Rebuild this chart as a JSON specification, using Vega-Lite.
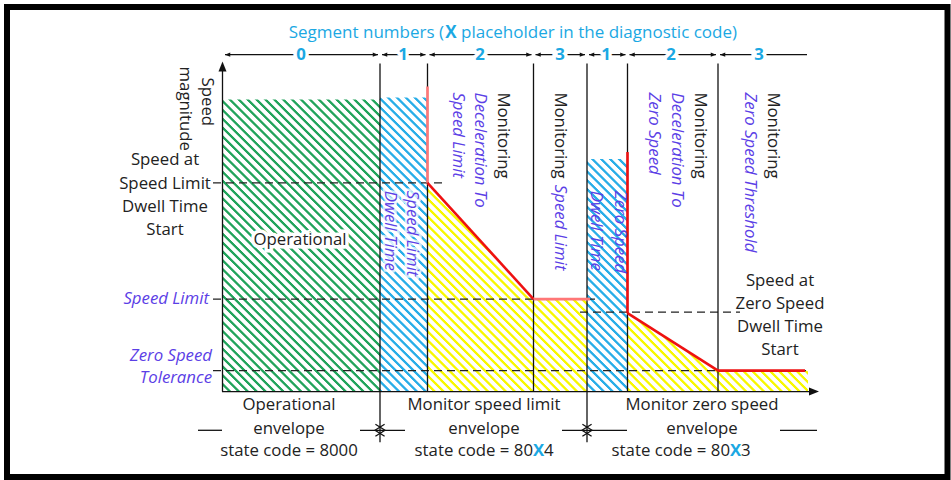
{
"$schema":"https://vega.github.io/schema/vega-lite/v6.json",
"width":951,"height":480,"padding":0,
"autosize":{"type":"fit","contains":"padding"},
"background":"white",
"config":{"view":{"stroke":null},"text":{"font":"Open Sans","fontSize":16.8,"color":"#222"}},
"resolve":{"scale":{"color":"independent","shape":"independent"}},
"encoding":{
 "x":{"field":"x","type":"quantitative","scale":{"domain":[0,951],"nice":false,"zero":false},"axis":null},
 "y":{"field":"y","type":"quantitative","scale":{"domain":[0,480],"reverse":true,"nice":false,"zero":false},"axis":null}
},
"datasets":{
 "regions":[
  {"part":"operational","x":222,"x2":380,"y":100,"y2":394,"c":"green"},
  {"part":"speed limit dwell","x":380,"x2":427.5,"y":98,"y2":394,"c":"blue"},
  {"part":"zero speed dwell","x":587,"x2":627.5,"y":160,"y2":394,"c":"blue"}
 ],
 "yellow":[
  {"s":"A","x":427.5,"y":184,"y0":394},{"s":"A","x":533.5,"y":301,"y0":394},{"s":"A","x":587,"y":301,"y0":394},
  {"s":"B","x":627.5,"y":315,"y0":394},{"s":"B","x":718,"y":373,"y0":394},{"s":"B","x":808,"y":373,"y0":394}
 ],
 "overlay":[{"x":220,"x2":810,"y":94,"y2":394}],
 "dashed":[
  {"x":213,"x2":442,"y":184,"y2":184},
  {"x":213,"x2":595,"y":301,"y2":301},
  {"x":580,"x2":740,"y":314,"y2":314},
  {"x":213,"x2":808,"y":373,"y2":373}
 ],
 "lines":[
  {"x":222.5,"x2":222.5,"y":394,"y2":66},
  {"x":222,"x2":812,"y":394,"y2":394},
  {"x":380,"x2":380,"y":64,"y2":445},
  {"x":427.5,"x2":427.5,"y":64,"y2":394},
  {"x":533.5,"x2":533.5,"y":64,"y2":394},
  {"x":587,"x2":587,"y":64,"y2":445},
  {"x":627.5,"x2":627.5,"y":64,"y2":394},
  {"x":718,"x2":718,"y":64,"y2":394},
  {"x":225,"x2":378,"y":55,"y2":55},
  {"x":382,"x2":425.5,"y":55,"y2":55},
  {"x":429.5,"x2":531.5,"y":55,"y2":55},
  {"x":535.5,"x2":585,"y":55,"y2":55},
  {"x":589,"x2":625.5,"y":55,"y2":55},
  {"x":629.5,"x2":716,"y":55,"y2":55},
  {"x":720,"x2":807,"y":55,"y2":55},
  {"x":198,"x2":222,"y":433,"y2":433},
  {"x":360,"x2":405,"y":433,"y2":433},
  {"x":562,"x2":627,"y":433,"y2":433},
  {"x":780,"x2":817,"y":433,"y2":433}
 ],
 "red":[
  {"x":427.5,"x2":427.5,"y":87,"y2":184,"c":"pale"},
  {"x":427.5,"x2":533.5,"y":184,"y2":301,"c":"red"},
  {"x":533.5,"x2":590,"y":301,"y2":301,"c":"pale"},
  {"x":627.5,"x2":627.5,"y":153,"y2":315,"c":"red"},
  {"x":627.5,"x2":718,"y":315,"y2":373,"c":"red"},
  {"x":718,"x2":805,"y":373,"y2":373,"c":"red"}
 ],
 "arrows":[
  {"x":225,"y":55,"d":"left"},{"x":378,"y":55,"d":"right"},
  {"x":382,"y":55,"d":"left"},{"x":425.5,"y":55,"d":"right"},
  {"x":429.5,"y":55,"d":"left"},{"x":531.5,"y":55,"d":"right"},
  {"x":535.5,"y":55,"d":"left"},{"x":585,"y":55,"d":"right"},
  {"x":589,"y":55,"d":"left"},{"x":625.5,"y":55,"d":"right"},
  {"x":629.5,"y":55,"d":"left"},{"x":716,"y":55,"d":"right"},
  {"x":720,"y":55,"d":"left"}
 ],
 "axisArrows":[{"x":222.5,"y":62,"d":"up"},{"x":819,"y":394,"d":"right"}],
 "chevrons":[
  {"x":385,"y":433,"d":"right"},{"x":375,"y":433,"d":"left"},
  {"x":592,"y":433,"d":"right"},{"x":582,"y":433,"d":"left"}
 ],
 "txtBlack":[
  {"x":165,"y":161,"t":"Speed at"},
  {"x":165,"y":185,"t":"Speed Limit"},
  {"x":165,"y":208,"t":"Dwell Time"},
  {"x":165,"y":231,"t":"Start"},
  {"x":780,"y":283,"t":"Speed at"},
  {"x":780,"y":306,"t":"Zero Speed"},
  {"x":780,"y":329,"t":"Dwell Time"},
  {"x":780,"y":352,"t":"Start"},
  {"x":289,"y":408,"t":"Operational"},
  {"x":289,"y":432,"t":"envelope"},
  {"x":289,"y":454,"t":"state code = 8000"},
  {"x":484,"y":408,"t":"Monitor speed limit"},
  {"x":484,"y":432,"t":"envelope"},
  {"x":702,"y":408,"t":"Monitor zero speed"},
  {"x":702,"y":432,"t":"envelope"}
 ],
 "txtBlueRight":[
  {"x":209,"y":301,"t":"Speed Limit"},
  {"x":212,"y":358,"t":"Zero Speed"},
  {"x":212,"y":380,"t":"Tolerance"}
 ],
 "rotBlack":[
  {"x":207,"y":78,"t":"Speed"},
  {"x":185,"y":67,"t":"magnitude"},
  {"x":503,"y":93,"t":"Monitoring"},
  {"x":560,"y":93,"t":"Monitoring"},
  {"x":700,"y":93,"t":"Monitoring"},
  {"x":773,"y":93,"t":"Monitoring"}
 ],
 "rotBlue":[
  {"x":412,"y":192,"t":"Speed Limit","h":1},
  {"x":390,"y":192,"t":"Dwell Time","h":1},
  {"x":480,"y":93,"t":"Deceleration To","h":0},
  {"x":458,"y":93,"t":"Speed Limit","h":0},
  {"x":560,"y":186,"t":"Speed Limit","h":0},
  {"x":620,"y":192,"t":"Zero Speed","h":0},
  {"x":596,"y":192,"t":"Dwell Time","h":0},
  {"x":677,"y":93,"t":"Deceleration To","h":0},
  {"x":654,"y":93,"t":"Zero Speed","h":0},
  {"x":750,"y":93,"t":"Zero Speed Threshold","h":0}
 ],
 "opLabel":[{"x":300,"y":242,"t":"Operational"}],
 "segLabels":[
  {"x":301,"y":55,"t":"0"},{"x":403,"y":55,"t":"1"},{"x":480,"y":55,"t":"2"},{"x":560,"y":55,"t":"3"},
  {"x":606,"y":55,"t":"1"},{"x":671,"y":55,"t":"2"},{"x":759,"y":55,"t":"3"}
 ],
 "titleA":[{"x":444,"y":33,"t":"Segment numbers ("}],
 "titleX":[{"x":451,"y":33,"t":"X"}],
 "titleB":[{"x":461,"y":33,"t":"placeholder in the diagnostic code)"}],
 "codeA":[{"x":533,"y":454,"t":"state code = 80"},{"x":730,"y":454,"t":"state code = 80"}],
 "codeX":[{"x":538.5,"y":454,"t":"X"},{"x":735.5,"y":454,"t":"X"}],
 "codeB":[{"x":544,"y":454,"t":"4"},{"x":741,"y":454,"t":"3"}],
 "frame":[{"x":7,"x2":947.5,"y":7,"y2":480}]
},
"layer":[
 {"data":{"name":"regions"},"mark":{"type":"rect"},
  "encoding":{"x2":{"field":"x2"},"y2":{"field":"y2"},
   "color":{"field":"c","type":"nominal","scale":{"domain":["green","blue"],"range":["#22a45c","#29aee8"]},"legend":null}}},
 {"data":{"name":"yellow"},"mark":{"type":"area","color":"#f8f800","interpolate":"linear"},
  "encoding":{"y":{"field":"y","type":"quantitative","stack":null,"scale":{"domain":[0,480],"reverse":true,"nice":false,"zero":false},"axis":null},
   "y2":{"field":"y0"},"detail":{"field":"s","type":"nominal"}}},
 {"data":{"name":"overlay"},"mark":{"type":"rect","fill":{"gradient":"linear","x1":0,"y1":1,"x2":1.19858,"y2":0.39055,"stops":[
{"offset":0,"color":"rgba(255,255,255,0)"},{"offset":0.0025,"color":"rgba(255,255,255,0)"},{"offset":0.0037,"color":"#fff"},{"offset":0.0088,"color":"#fff"},
{"offset":0.01,"color":"rgba(255,255,255,0)"},{"offset":0.0125,"color":"rgba(255,255,255,0)"},{"offset":0.0137,"color":"#fff"},{"offset":0.0188,"color":"#fff"},
{"offset":0.02,"color":"rgba(255,255,255,0)"},{"offset":0.0225,"color":"rgba(255,255,255,0)"},{"offset":0.0237,"color":"#fff"},{"offset":0.0288,"color":"#fff"},
{"offset":0.03,"color":"rgba(255,255,255,0)"},{"offset":0.0325,"color":"rgba(255,255,255,0)"},{"offset":0.0337,"color":"#fff"},{"offset":0.0388,"color":"#fff"},
{"offset":0.04,"color":"rgba(255,255,255,0)"},{"offset":0.0425,"color":"rgba(255,255,255,0)"},{"offset":0.0437,"color":"#fff"},{"offset":0.0488,"color":"#fff"},
{"offset":0.05,"color":"rgba(255,255,255,0)"},{"offset":0.0525,"color":"rgba(255,255,255,0)"},{"offset":0.0537,"color":"#fff"},{"offset":0.0588,"color":"#fff"},
{"offset":0.06,"color":"rgba(255,255,255,0)"},{"offset":0.0625,"color":"rgba(255,255,255,0)"},{"offset":0.0637,"color":"#fff"},{"offset":0.0688,"color":"#fff"},
{"offset":0.07,"color":"rgba(255,255,255,0)"},{"offset":0.0725,"color":"rgba(255,255,255,0)"},{"offset":0.0737,"color":"#fff"},{"offset":0.0788,"color":"#fff"},
{"offset":0.08,"color":"rgba(255,255,255,0)"},{"offset":0.0825,"color":"rgba(255,255,255,0)"},{"offset":0.0837,"color":"#fff"},{"offset":0.0888,"color":"#fff"},
{"offset":0.09,"color":"rgba(255,255,255,0)"},{"offset":0.0925,"color":"rgba(255,255,255,0)"},{"offset":0.0937,"color":"#fff"},{"offset":0.0988,"color":"#fff"},
{"offset":0.10,"color":"rgba(255,255,255,0)"},{"offset":0.1025,"color":"rgba(255,255,255,0)"},{"offset":0.1037,"color":"#fff"},{"offset":0.1088,"color":"#fff"},
{"offset":0.11,"color":"rgba(255,255,255,0)"},{"offset":0.1125,"color":"rgba(255,255,255,0)"},{"offset":0.1137,"color":"#fff"},{"offset":0.1188,"color":"#fff"},
{"offset":0.12,"color":"rgba(255,255,255,0)"},{"offset":0.1225,"color":"rgba(255,255,255,0)"},{"offset":0.1237,"color":"#fff"},{"offset":0.1288,"color":"#fff"},
{"offset":0.13,"color":"rgba(255,255,255,0)"},{"offset":0.1325,"color":"rgba(255,255,255,0)"},{"offset":0.1337,"color":"#fff"},{"offset":0.1388,"color":"#fff"},
{"offset":0.14,"color":"rgba(255,255,255,0)"},{"offset":0.1425,"color":"rgba(255,255,255,0)"},{"offset":0.1437,"color":"#fff"},{"offset":0.1488,"color":"#fff"},
{"offset":0.15,"color":"rgba(255,255,255,0)"},{"offset":0.1525,"color":"rgba(255,255,255,0)"},{"offset":0.1537,"color":"#fff"},{"offset":0.1588,"color":"#fff"},
{"offset":0.16,"color":"rgba(255,255,255,0)"},{"offset":0.1625,"color":"rgba(255,255,255,0)"},{"offset":0.1637,"color":"#fff"},{"offset":0.1688,"color":"#fff"},
{"offset":0.17,"color":"rgba(255,255,255,0)"},{"offset":0.1725,"color":"rgba(255,255,255,0)"},{"offset":0.1737,"color":"#fff"},{"offset":0.1788,"color":"#fff"},
{"offset":0.18,"color":"rgba(255,255,255,0)"},{"offset":0.1825,"color":"rgba(255,255,255,0)"},{"offset":0.1837,"color":"#fff"},{"offset":0.1888,"color":"#fff"},
{"offset":0.19,"color":"rgba(255,255,255,0)"},{"offset":0.1925,"color":"rgba(255,255,255,0)"},{"offset":0.1937,"color":"#fff"},{"offset":0.1988,"color":"#fff"},
{"offset":0.20,"color":"rgba(255,255,255,0)"},{"offset":0.2025,"color":"rgba(255,255,255,0)"},{"offset":0.2037,"color":"#fff"},{"offset":0.2088,"color":"#fff"},
{"offset":0.21,"color":"rgba(255,255,255,0)"},{"offset":0.2125,"color":"rgba(255,255,255,0)"},{"offset":0.2137,"color":"#fff"},{"offset":0.2188,"color":"#fff"},
{"offset":0.22,"color":"rgba(255,255,255,0)"},{"offset":0.2225,"color":"rgba(255,255,255,0)"},{"offset":0.2237,"color":"#fff"},{"offset":0.2288,"color":"#fff"},
{"offset":0.23,"color":"rgba(255,255,255,0)"},{"offset":0.2325,"color":"rgba(255,255,255,0)"},{"offset":0.2337,"color":"#fff"},{"offset":0.2388,"color":"#fff"},
{"offset":0.24,"color":"rgba(255,255,255,0)"},{"offset":0.2425,"color":"rgba(255,255,255,0)"},{"offset":0.2437,"color":"#fff"},{"offset":0.2488,"color":"#fff"},
{"offset":0.25,"color":"rgba(255,255,255,0)"},{"offset":0.2525,"color":"rgba(255,255,255,0)"},{"offset":0.2537,"color":"#fff"},{"offset":0.2588,"color":"#fff"},
{"offset":0.26,"color":"rgba(255,255,255,0)"},{"offset":0.2625,"color":"rgba(255,255,255,0)"},{"offset":0.2637,"color":"#fff"},{"offset":0.2688,"color":"#fff"},
{"offset":0.27,"color":"rgba(255,255,255,0)"},{"offset":0.2725,"color":"rgba(255,255,255,0)"},{"offset":0.2737,"color":"#fff"},{"offset":0.2788,"color":"#fff"},
{"offset":0.28,"color":"rgba(255,255,255,0)"},{"offset":0.2825,"color":"rgba(255,255,255,0)"},{"offset":0.2837,"color":"#fff"},{"offset":0.2888,"color":"#fff"},
{"offset":0.29,"color":"rgba(255,255,255,0)"},{"offset":0.2925,"color":"rgba(255,255,255,0)"},{"offset":0.2937,"color":"#fff"},{"offset":0.2988,"color":"#fff"},
{"offset":0.30,"color":"rgba(255,255,255,0)"},{"offset":0.3025,"color":"rgba(255,255,255,0)"},{"offset":0.3037,"color":"#fff"},{"offset":0.3088,"color":"#fff"},
{"offset":0.31,"color":"rgba(255,255,255,0)"},{"offset":0.3125,"color":"rgba(255,255,255,0)"},{"offset":0.3137,"color":"#fff"},{"offset":0.3188,"color":"#fff"},
{"offset":0.32,"color":"rgba(255,255,255,0)"},{"offset":0.3225,"color":"rgba(255,255,255,0)"},{"offset":0.3237,"color":"#fff"},{"offset":0.3288,"color":"#fff"},
{"offset":0.33,"color":"rgba(255,255,255,0)"},{"offset":0.3325,"color":"rgba(255,255,255,0)"},{"offset":0.3337,"color":"#fff"},{"offset":0.3388,"color":"#fff"},
{"offset":0.34,"color":"rgba(255,255,255,0)"},{"offset":0.3425,"color":"rgba(255,255,255,0)"},{"offset":0.3437,"color":"#fff"},{"offset":0.3488,"color":"#fff"},
{"offset":0.35,"color":"rgba(255,255,255,0)"},{"offset":0.3525,"color":"rgba(255,255,255,0)"},{"offset":0.3537,"color":"#fff"},{"offset":0.3588,"color":"#fff"},
{"offset":0.36,"color":"rgba(255,255,255,0)"},{"offset":0.3625,"color":"rgba(255,255,255,0)"},{"offset":0.3637,"color":"#fff"},{"offset":0.3688,"color":"#fff"},
{"offset":0.37,"color":"rgba(255,255,255,0)"},{"offset":0.3725,"color":"rgba(255,255,255,0)"},{"offset":0.3737,"color":"#fff"},{"offset":0.3788,"color":"#fff"},
{"offset":0.38,"color":"rgba(255,255,255,0)"},{"offset":0.3825,"color":"rgba(255,255,255,0)"},{"offset":0.3837,"color":"#fff"},{"offset":0.3888,"color":"#fff"},
{"offset":0.39,"color":"rgba(255,255,255,0)"},{"offset":0.3925,"color":"rgba(255,255,255,0)"},{"offset":0.3937,"color":"#fff"},{"offset":0.3988,"color":"#fff"},
{"offset":0.40,"color":"rgba(255,255,255,0)"},{"offset":0.4025,"color":"rgba(255,255,255,0)"},{"offset":0.4037,"color":"#fff"},{"offset":0.4088,"color":"#fff"},
{"offset":0.41,"color":"rgba(255,255,255,0)"},{"offset":0.4125,"color":"rgba(255,255,255,0)"},{"offset":0.4137,"color":"#fff"},{"offset":0.4188,"color":"#fff"},
{"offset":0.42,"color":"rgba(255,255,255,0)"},{"offset":0.4225,"color":"rgba(255,255,255,0)"},{"offset":0.4237,"color":"#fff"},{"offset":0.4288,"color":"#fff"},
{"offset":0.43,"color":"rgba(255,255,255,0)"},{"offset":0.4325,"color":"rgba(255,255,255,0)"},{"offset":0.4337,"color":"#fff"},{"offset":0.4388,"color":"#fff"},
{"offset":0.44,"color":"rgba(255,255,255,0)"},{"offset":0.4425,"color":"rgba(255,255,255,0)"},{"offset":0.4437,"color":"#fff"},{"offset":0.4488,"color":"#fff"},
{"offset":0.45,"color":"rgba(255,255,255,0)"},{"offset":0.4525,"color":"rgba(255,255,255,0)"},{"offset":0.4537,"color":"#fff"},{"offset":0.4588,"color":"#fff"},
{"offset":0.46,"color":"rgba(255,255,255,0)"},{"offset":0.4625,"color":"rgba(255,255,255,0)"},{"offset":0.4637,"color":"#fff"},{"offset":0.4688,"color":"#fff"},
{"offset":0.47,"color":"rgba(255,255,255,0)"},{"offset":0.4725,"color":"rgba(255,255,255,0)"},{"offset":0.4737,"color":"#fff"},{"offset":0.4788,"color":"#fff"},
{"offset":0.48,"color":"rgba(255,255,255,0)"},{"offset":0.4825,"color":"rgba(255,255,255,0)"},{"offset":0.4837,"color":"#fff"},{"offset":0.4888,"color":"#fff"},
{"offset":0.49,"color":"rgba(255,255,255,0)"},{"offset":0.4925,"color":"rgba(255,255,255,0)"},{"offset":0.4937,"color":"#fff"},{"offset":0.4988,"color":"#fff"},
{"offset":0.50,"color":"rgba(255,255,255,0)"},{"offset":0.5025,"color":"rgba(255,255,255,0)"},{"offset":0.5037,"color":"#fff"},{"offset":0.5088,"color":"#fff"},
{"offset":0.51,"color":"rgba(255,255,255,0)"},{"offset":0.5125,"color":"rgba(255,255,255,0)"},{"offset":0.5137,"color":"#fff"},{"offset":0.5188,"color":"#fff"},
{"offset":0.52,"color":"rgba(255,255,255,0)"},{"offset":0.5225,"color":"rgba(255,255,255,0)"},{"offset":0.5237,"color":"#fff"},{"offset":0.5288,"color":"#fff"},
{"offset":0.53,"color":"rgba(255,255,255,0)"},{"offset":0.5325,"color":"rgba(255,255,255,0)"},{"offset":0.5337,"color":"#fff"},{"offset":0.5388,"color":"#fff"},
{"offset":0.54,"color":"rgba(255,255,255,0)"},{"offset":0.5425,"color":"rgba(255,255,255,0)"},{"offset":0.5437,"color":"#fff"},{"offset":0.5488,"color":"#fff"},
{"offset":0.55,"color":"rgba(255,255,255,0)"},{"offset":0.5525,"color":"rgba(255,255,255,0)"},{"offset":0.5537,"color":"#fff"},{"offset":0.5588,"color":"#fff"},
{"offset":0.56,"color":"rgba(255,255,255,0)"},{"offset":0.5625,"color":"rgba(255,255,255,0)"},{"offset":0.5637,"color":"#fff"},{"offset":0.5688,"color":"#fff"},
{"offset":0.57,"color":"rgba(255,255,255,0)"},{"offset":0.5725,"color":"rgba(255,255,255,0)"},{"offset":0.5737,"color":"#fff"},{"offset":0.5788,"color":"#fff"},
{"offset":0.58,"color":"rgba(255,255,255,0)"},{"offset":0.5825,"color":"rgba(255,255,255,0)"},{"offset":0.5837,"color":"#fff"},{"offset":0.5888,"color":"#fff"},
{"offset":0.59,"color":"rgba(255,255,255,0)"},{"offset":0.5925,"color":"rgba(255,255,255,0)"},{"offset":0.5937,"color":"#fff"},{"offset":0.5988,"color":"#fff"},
{"offset":0.60,"color":"rgba(255,255,255,0)"},{"offset":0.6025,"color":"rgba(255,255,255,0)"},{"offset":0.6037,"color":"#fff"},{"offset":0.6088,"color":"#fff"},
{"offset":0.61,"color":"rgba(255,255,255,0)"},{"offset":0.6125,"color":"rgba(255,255,255,0)"},{"offset":0.6137,"color":"#fff"},{"offset":0.6188,"color":"#fff"},
{"offset":0.62,"color":"rgba(255,255,255,0)"},{"offset":0.6225,"color":"rgba(255,255,255,0)"},{"offset":0.6237,"color":"#fff"},{"offset":0.6288,"color":"#fff"},
{"offset":0.63,"color":"rgba(255,255,255,0)"},{"offset":0.6325,"color":"rgba(255,255,255,0)"},{"offset":0.6337,"color":"#fff"},{"offset":0.6388,"color":"#fff"},
{"offset":0.64,"color":"rgba(255,255,255,0)"},{"offset":0.6425,"color":"rgba(255,255,255,0)"},{"offset":0.6437,"color":"#fff"},{"offset":0.6488,"color":"#fff"},
{"offset":0.65,"color":"rgba(255,255,255,0)"},{"offset":0.6525,"color":"rgba(255,255,255,0)"},{"offset":0.6537,"color":"#fff"},{"offset":0.6588,"color":"#fff"},
{"offset":0.66,"color":"rgba(255,255,255,0)"},{"offset":0.6625,"color":"rgba(255,255,255,0)"},{"offset":0.6637,"color":"#fff"},{"offset":0.6688,"color":"#fff"},
{"offset":0.67,"color":"rgba(255,255,255,0)"},{"offset":0.6725,"color":"rgba(255,255,255,0)"},{"offset":0.6737,"color":"#fff"},{"offset":0.6788,"color":"#fff"},
{"offset":0.68,"color":"rgba(255,255,255,0)"},{"offset":0.6825,"color":"rgba(255,255,255,0)"},{"offset":0.6837,"color":"#fff"},{"offset":0.6888,"color":"#fff"},
{"offset":0.69,"color":"rgba(255,255,255,0)"},{"offset":0.6925,"color":"rgba(255,255,255,0)"},{"offset":0.6937,"color":"#fff"},{"offset":0.6988,"color":"#fff"},
{"offset":0.70,"color":"rgba(255,255,255,0)"},{"offset":0.7025,"color":"rgba(255,255,255,0)"},{"offset":0.7037,"color":"#fff"},{"offset":0.7088,"color":"#fff"},
{"offset":0.71,"color":"rgba(255,255,255,0)"},{"offset":0.7125,"color":"rgba(255,255,255,0)"},{"offset":0.7137,"color":"#fff"},{"offset":0.7188,"color":"#fff"},
{"offset":0.72,"color":"rgba(255,255,255,0)"},{"offset":0.7225,"color":"rgba(255,255,255,0)"},{"offset":0.7237,"color":"#fff"},{"offset":0.7288,"color":"#fff"},
{"offset":0.73,"color":"rgba(255,255,255,0)"},{"offset":0.7325,"color":"rgba(255,255,255,0)"},{"offset":0.7337,"color":"#fff"},{"offset":0.7388,"color":"#fff"},
{"offset":0.74,"color":"rgba(255,255,255,0)"},{"offset":0.7425,"color":"rgba(255,255,255,0)"},{"offset":0.7437,"color":"#fff"},{"offset":0.7488,"color":"#fff"},
{"offset":0.75,"color":"rgba(255,255,255,0)"},{"offset":0.7525,"color":"rgba(255,255,255,0)"},{"offset":0.7537,"color":"#fff"},{"offset":0.7588,"color":"#fff"},
{"offset":0.76,"color":"rgba(255,255,255,0)"},{"offset":0.7625,"color":"rgba(255,255,255,0)"},{"offset":0.7637,"color":"#fff"},{"offset":0.7688,"color":"#fff"},
{"offset":0.77,"color":"rgba(255,255,255,0)"},{"offset":0.7725,"color":"rgba(255,255,255,0)"},{"offset":0.7737,"color":"#fff"},{"offset":0.7788,"color":"#fff"},
{"offset":0.78,"color":"rgba(255,255,255,0)"},{"offset":0.7825,"color":"rgba(255,255,255,0)"},{"offset":0.7837,"color":"#fff"},{"offset":0.7888,"color":"#fff"},
{"offset":0.79,"color":"rgba(255,255,255,0)"},{"offset":0.7925,"color":"rgba(255,255,255,0)"},{"offset":0.7937,"color":"#fff"},{"offset":0.7988,"color":"#fff"},
{"offset":0.80,"color":"rgba(255,255,255,0)"},{"offset":0.8025,"color":"rgba(255,255,255,0)"},{"offset":0.8037,"color":"#fff"},{"offset":0.8088,"color":"#fff"},
{"offset":0.81,"color":"rgba(255,255,255,0)"},{"offset":0.8125,"color":"rgba(255,255,255,0)"},{"offset":0.8137,"color":"#fff"},{"offset":0.8188,"color":"#fff"},
{"offset":0.82,"color":"rgba(255,255,255,0)"},{"offset":0.8225,"color":"rgba(255,255,255,0)"},{"offset":0.8237,"color":"#fff"},{"offset":0.8288,"color":"#fff"},
{"offset":0.83,"color":"rgba(255,255,255,0)"},{"offset":0.8325,"color":"rgba(255,255,255,0)"},{"offset":0.8337,"color":"#fff"},{"offset":0.8388,"color":"#fff"},
{"offset":0.84,"color":"rgba(255,255,255,0)"},{"offset":0.8425,"color":"rgba(255,255,255,0)"},{"offset":0.8437,"color":"#fff"},{"offset":0.8488,"color":"#fff"},
{"offset":0.85,"color":"rgba(255,255,255,0)"},{"offset":0.8525,"color":"rgba(255,255,255,0)"},{"offset":0.8537,"color":"#fff"},{"offset":0.8588,"color":"#fff"},
{"offset":0.86,"color":"rgba(255,255,255,0)"},{"offset":0.8625,"color":"rgba(255,255,255,0)"},{"offset":0.8637,"color":"#fff"},{"offset":0.8688,"color":"#fff"},
{"offset":0.87,"color":"rgba(255,255,255,0)"},{"offset":0.8725,"color":"rgba(255,255,255,0)"},{"offset":0.8737,"color":"#fff"},{"offset":0.8788,"color":"#fff"},
{"offset":0.88,"color":"rgba(255,255,255,0)"},{"offset":0.8825,"color":"rgba(255,255,255,0)"},{"offset":0.8837,"color":"#fff"},{"offset":0.8888,"color":"#fff"},
{"offset":0.89,"color":"rgba(255,255,255,0)"},{"offset":0.8925,"color":"rgba(255,255,255,0)"},{"offset":0.8937,"color":"#fff"},{"offset":0.8988,"color":"#fff"},
{"offset":0.90,"color":"rgba(255,255,255,0)"},{"offset":0.9025,"color":"rgba(255,255,255,0)"},{"offset":0.9037,"color":"#fff"},{"offset":0.9088,"color":"#fff"},
{"offset":0.91,"color":"rgba(255,255,255,0)"},{"offset":0.9125,"color":"rgba(255,255,255,0)"},{"offset":0.9137,"color":"#fff"},{"offset":0.9188,"color":"#fff"},
{"offset":0.92,"color":"rgba(255,255,255,0)"},{"offset":0.9225,"color":"rgba(255,255,255,0)"},{"offset":0.9237,"color":"#fff"},{"offset":0.9288,"color":"#fff"},
{"offset":0.93,"color":"rgba(255,255,255,0)"},{"offset":0.9325,"color":"rgba(255,255,255,0)"},{"offset":0.9337,"color":"#fff"},{"offset":0.9388,"color":"#fff"},
{"offset":0.94,"color":"rgba(255,255,255,0)"},{"offset":0.9425,"color":"rgba(255,255,255,0)"},{"offset":0.9437,"color":"#fff"},{"offset":0.9488,"color":"#fff"},
{"offset":0.95,"color":"rgba(255,255,255,0)"},{"offset":0.9525,"color":"rgba(255,255,255,0)"},{"offset":0.9537,"color":"#fff"},{"offset":0.9588,"color":"#fff"},
{"offset":0.96,"color":"rgba(255,255,255,0)"},{"offset":0.9625,"color":"rgba(255,255,255,0)"},{"offset":0.9637,"color":"#fff"},{"offset":0.9688,"color":"#fff"},
{"offset":0.97,"color":"rgba(255,255,255,0)"},{"offset":0.9725,"color":"rgba(255,255,255,0)"},{"offset":0.9737,"color":"#fff"},{"offset":0.9788,"color":"#fff"},
{"offset":0.98,"color":"rgba(255,255,255,0)"},{"offset":0.9825,"color":"rgba(255,255,255,0)"},{"offset":0.9837,"color":"#fff"},{"offset":0.9888,"color":"#fff"},
{"offset":0.99,"color":"rgba(255,255,255,0)"},{"offset":0.9925,"color":"rgba(255,255,255,0)"},{"offset":0.9937,"color":"#fff"},{"offset":0.9988,"color":"#fff"},
{"offset":1,"color":"rgba(255,255,255,0)"}
 ]}},
  "encoding":{"x2":{"field":"x2"},"y2":{"field":"y2"}}},
 {"data":{"name":"dashed"},"mark":{"type":"rule","color":"#222","strokeWidth":1.3,"strokeDash":[8,5]},
  "encoding":{"x2":{"field":"x2"},"y2":{"field":"y2"}}},
 {"data":{"name":"lines"},"mark":{"type":"rule","color":"#111","strokeWidth":1.3},
  "encoding":{"x2":{"field":"x2"},"y2":{"field":"y2"}}},
 {"data":{"name":"red"},"mark":{"type":"rule","strokeWidth":2.6},
  "encoding":{"x2":{"field":"x2"},"y2":{"field":"y2"},
   "color":{"field":"c","type":"nominal","scale":{"domain":["pale","red"],"range":["#f77","#ee1111"]},"legend":null}}},
 {"data":{"name":"arrows"},"mark":{"type":"point","filled":true,"color":"#111","opacity":1,"size":110},
  "encoding":{"shape":{"field":"d","type":"nominal","scale":{"domain":["right","left","up"],"range":["M0,0L-1,-0.4L-1,0.4Z","M0,0L1,-0.4L1,0.4Z","M0,0L-0.4,1L0.4,1Z"]},"legend":null}}},
 {"data":{"name":"axisArrows"},"mark":{"type":"point","filled":true,"color":"#111","opacity":1,"size":400},
  "encoding":{"shape":{"field":"d","type":"nominal","scale":{"domain":["right","left","up"],"range":["M0,0L-1,-0.4L-1,0.4Z","M0,0L1,-0.4L1,0.4Z","M0,0L-0.4,1L0.4,1Z"]},"legend":null}}},
 {"data":{"name":"chevrons"},"mark":{"type":"point","filled":false,"color":"#111","opacity":1,"strokeWidth":1.3,"size":144},
  "encoding":{"shape":{"field":"d","type":"nominal","scale":{"domain":["right","left"],"range":["M-1.6,-1L0,0L-1.6,1","M1.6,-1L0,0L1.6,1"]},"legend":null}}},
 {"data":{"name":"txtBlack"},"mark":{"type":"text","align":"center","color":"#222"},
  "encoding":{"text":{"field":"t","type":"nominal"}}},
 {"data":{"name":"txtBlueRight"},"mark":{"type":"text","align":"right","fontStyle":"italic","color":"#5b40e6"},
  "encoding":{"text":{"field":"t","type":"nominal"}}},
 {"data":{"name":"rotBlack"},"mark":{"type":"text","align":"left","baseline":"middle","angle":90,"color":"#222"},
  "encoding":{"text":{"field":"t","type":"nominal"}}},
 {"data":{"name":"rotBlue"},"transform":[{"filter":"datum.h == 1"}],
  "mark":{"type":"text","align":"left","baseline":"middle","angle":90,"fontStyle":"italic","color":"white","stroke":"white","strokeWidth":5,"strokeOpacity":0.75},
  "encoding":{"text":{"field":"t","type":"nominal"}}},
 {"data":{"name":"rotBlue"},"mark":{"type":"text","align":"left","baseline":"middle","angle":90,"fontStyle":"italic","color":"#5b40e6"},
  "encoding":{"text":{"field":"t","type":"nominal"}}},
 {"data":{"name":"opLabel"},"mark":{"type":"text","align":"center","color":"white","stroke":"white","strokeWidth":7},
  "encoding":{"text":{"field":"t","type":"nominal"}}},
 {"data":{"name":"opLabel"},"mark":{"type":"text","align":"center","color":"#222"},
  "encoding":{"text":{"field":"t","type":"nominal"}}},
 {"data":{"name":"segLabels"},"mark":{"type":"text","align":"center","fontWeight":"bold","color":"white","stroke":"white","strokeWidth":7},
  "encoding":{"text":{"field":"t","type":"nominal"}}},
 {"data":{"name":"segLabels"},"mark":{"type":"text","align":"center","fontWeight":"bold","color":"#1ba8e3"},
  "encoding":{"text":{"field":"t","type":"nominal"}}},
 {"data":{"name":"titleA"},"mark":{"type":"text","align":"right","color":"#1ba8e3","fontSize":17},
  "encoding":{"text":{"field":"t","type":"nominal"}}},
 {"data":{"name":"titleX"},"mark":{"type":"text","align":"center","fontWeight":"bold","color":"#1ba8e3","fontSize":17},
  "encoding":{"text":{"field":"t","type":"nominal"}}},
 {"data":{"name":"titleB"},"mark":{"type":"text","align":"left","color":"#1ba8e3","fontSize":17},
  "encoding":{"text":{"field":"t","type":"nominal"}}},
 {"data":{"name":"codeA"},"mark":{"type":"text","align":"right","color":"#222"},
  "encoding":{"text":{"field":"t","type":"nominal"}}},
 {"data":{"name":"codeX"},"mark":{"type":"text","align":"center","fontWeight":"bold","color":"#1ba8e3"},
  "encoding":{"text":{"field":"t","type":"nominal"}}},
 {"data":{"name":"codeB"},"mark":{"type":"text","align":"left","color":"#222"},
  "encoding":{"text":{"field":"t","type":"nominal"}}},
 {"data":{"name":"frame"},"mark":{"type":"rect","filled":false,"color":"#000","strokeWidth":6},
  "encoding":{"x2":{"field":"x2"},"y2":{"field":"y2"}}}
]
}
